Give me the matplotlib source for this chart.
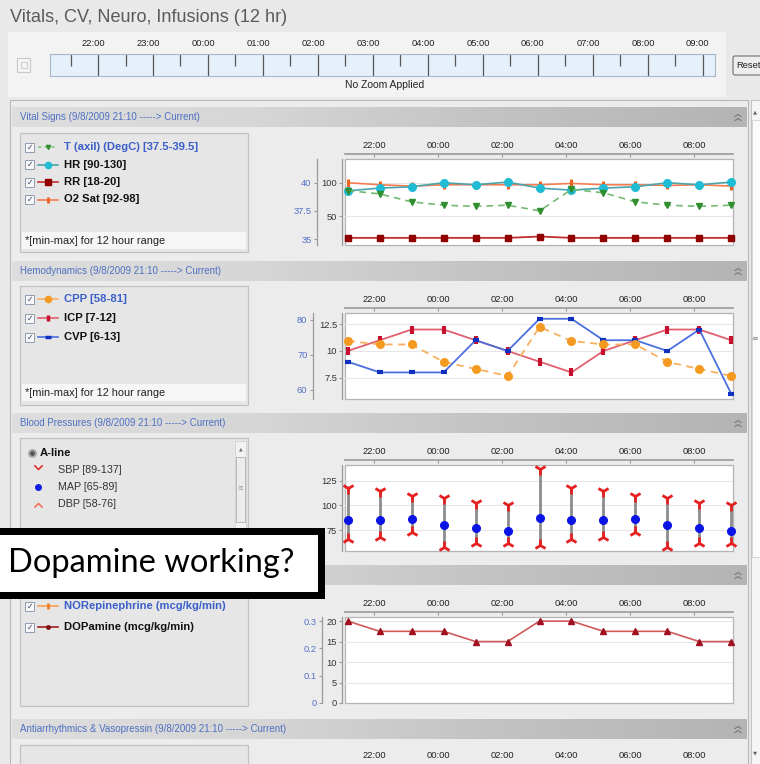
import matplotlib
matplotlib.use('Agg')
import matplotlib.pyplot as plt
import numpy as np
from matplotlib.patches import Rectangle, FancyBboxPatch
from matplotlib.path import Path
from matplotlib.colors import LinearSegmentedColormap
from matplotlib.transforms import ScaledTranslation
from matplotlib import font_manager

# ---------------- data ----------------
sample_times = ['21:10', '22:10', '23:10', '00:10', '01:10', '02:10', '03:10',
                '04:10', '05:10', '06:10', '07:10', '08:10', '09:10']
ruler_labels = ['22:00', '23:00', '00:00', '01:00', '02:00', '03:00',
                '04:00', '05:00', '06:00', '07:00', '08:00', '09:00']
chart_labels = ['22:00', '00:00', '02:00', '04:00', '06:00', '08:00']

temp_c = [39.3, 39.0, 38.3, 38.0, 37.9, 38.0, 37.5, 39.4, 39.1, 38.3, 38.0, 37.9, 38.0]
heart_rate = [88, 92, 94, 100, 97, 101, 92, 89, 92, 94, 100, 97, 101]
resp_rate = [18, 18, 18, 18, 18, 18, 20, 18, 18, 18, 18, 18, 18]
o2_sat = [100, 97, 95, 97, 97, 97, 97, 99, 97, 97, 96, 97, 95]

cpp = [74, 73, 73, 68, 66, 64, 78, 74, 73, 73, 68, 66, 64]
icp = [10, 11, 12, 12, 11, 10, 9, 8, 10, 11, 12, 12, 11]
cvp = [9, 8, 8, 8, 11, 10, 13, 13, 11, 11, 10, 12, 6]

sbp = [118, 115, 110, 108, 103, 100, 137, 118, 115, 110, 108, 103, 100]
mapp = [85, 85, 86, 80, 77, 74, 87, 85, 85, 86, 80, 77, 74]
dbp = [66, 68, 73, 58, 62, 62, 60, 66, 68, 73, 58, 62, 62]

dopamine = [20, 17.5, 17.5, 17.5, 15, 15, 20, 20, 17.5, 17.5, 17.5, 15, 15]

title = 'Vitals, CV, Neuro, Infusions (12 hr)'
section_titles = ['Vital Signs (9/8/2009 21:10 -----> Current)',
                  'Hemodynamics (9/8/2009 21:10 -----> Current)',
                  'Blood Pressures (9/8/2009 21:10 -----> Current)',
                  '',  # Infusions header text is hidden behind the annotation
                  'Antiarrhythmics & Vasopressin (9/8/2009 21:10 -----> Current)']
vital_legend = ['T (axil) (DegC) [37.5-39.5]', 'HR [90-130]', 'RR [18-20]', 'O2 Sat [92-98]']
hemo_legend = ['CPP [58-81]', 'ICP [7-12]', 'CVP [6-13]']
bp_legend = ['SBP [89-137]', 'MAP [65-89]', 'DBP [58-76]']
inf_legend = ['NORepinephrine (mcg/kg/min)', 'DOPamine (mcg/kg/min)']
minmax_note = '*[min-max] for 12 hour range'
annotation = 'Dopamine working?'


def hours(t):
    h, m = map(int, t.split(':'))
    return (h - 21) % 24 + m / 60.0


xs = [hours(t) for t in sample_times]
ruler_x = [hours(t) for t in ruler_labels]
chart_x = [hours(t) for t in chart_labels]

# ---------------- fonts ----------------
avail = {f.name for f in font_manager.fontManager.ttflist}
NARROW = 'Liberation Sans Narrow' in avail
UI = ['Liberation Sans Narrow', 'Liberation Sans'] if NARROW else ['Liberation Sans']
K = (1.0 if NARROW else 0.82) * 1.18
ANNOT_FONT = ['Lato', 'DejaVu Sans']

W, H = 760, 764
fig = plt.figure(figsize=(7.6, 7.64), dpi=100)
fig.patch.set_facecolor('#e9e9e9')
PT = 0.72

bg = fig.add_axes([0, 0, 1, 1])
bg.set_xlim(0, W)
bg.set_ylim(H, 0)
bg.axis('off')


def px_axes(x0, y0, x1, y1):
    return fig.add_axes([x0 / W, 1 - y1 / H, (x1 - x0) / W, (y1 - y0) / H])


def T(x, y, s, size, **kw):
    kw.setdefault('family', UI)
    kw.setdefault('va', 'center')
    return bg.text(x, y, s, fontsize=size * K, **kw)


# ---------------- top area ----------------
T(10, 18, title, 13.5, color='#5a5a5a')
bg.add_patch(Rectangle((8, 32), 718, 65, fc='#f3f3f3', ec='none'))
bg.add_patch(Rectangle((17, 58), 13, 14, fc='#f5f5f5', ec='#c8c8c8', lw=0.8))
bg.add_patch(Rectangle((20.5, 62), 6, 6, fc='none', ec='#d0d0d0', lw=0.8))
T(385, 85, 'No Zoom Applied', 7.7, color='#222222', ha='center')
bg.add_patch(FancyBboxPatch((733, 56), 40, 19, boxstyle='round,pad=0,rounding_size=2',
                            fc='#eeeeee', ec='#707070', lw=0.8))
T(736, 66, 'Reset', 7, color='#222222')

ax_r = px_axes(50, 54, 715, 76)
ax_r.set_facecolor('#e6f0fb')
ax_r.set_xlim(0.127, 12.22)
ax_r.set_ylim(0, 1)
for s in ax_r.spines.values():
    s.set_color('#a8b8cc')
    s.set_linewidth(0.8)
ax_r.set_yticks([])
ax_r.vlines(ruler_x, 0, 1, color='#555555', lw=0.9)
half = [h - 0.5 for h in ruler_x] + [ruler_x[-1] + 0.5]
ax_r.vlines(half, 0.45, 1, color='#555555', lw=0.9)
ax_r.xaxis.tick_top()
ax_r.set_xticks(ruler_x)
ax_r.set_xticklabels(ruler_labels)
ax_r.tick_params(axis='x', length=0, pad=4, labelsize=7 * K, labelcolor='#222222')
for lab in ax_r.get_xticklabels():
    lab.set_family(UI)
    lab.set_transform(lab.get_transform() + ScaledTranslation(-0.05, 0, fig.dpi_scale_trans))

# ---------------- panels ----------------
bg.add_patch(Rectangle((10, 100), 738, 670, fc='#ececec', ec='#b8b8b8', lw=0.8))
# scrollbar
bg.add_patch(Rectangle((751, 100), 10, 670, fc='#f6f6f6', ec='#c4c4c4', lw=0.8))
bg.add_patch(Rectangle((752, 120), 8, 437, fc='#fbfbfb', ec='#d0d0d0', lw=0.6))
T(755, 112, '▲', 4, family=['DejaVu Sans'], color='#666666', ha='center')
T(755, 338, '≡', 6, family=['DejaVu Sans'], color='#888888', ha='center')
T(755, 753, '▼', 4, family=['DejaVu Sans'], color='#666666', ha='center')

hdr_cmap = LinearSegmentedColormap.from_list('hdr', ['#dedede', '#d6d6d6', '#c2c2c2', '#b4b4b4'])
grad = np.linspace(0, 1, 256)[None, :]
section_tops = [107, 261, 413, 565, 719]


def chevrons(x, yc):
    for dy in (-2.5, 1.5):
        bg.plot([x - 3, x, x + 3], [yc + dy + 2, yc + dy, yc + dy + 2], color='#777777', lw=0.8)


for top, name in zip(section_tops, section_titles):
    bg.imshow(grad, cmap=hdr_cmap, extent=(12, 747, top + 20, top), aspect='auto', zorder=1)
    if name:
        T(20, top + 10, name, 7.3, color='#4e70c2', zorder=2)
    chevrons(738, top + 10)
bg.set_xlim(0, W)
bg.set_ylim(H, 0)


def legend_box(top, height):
    bg.add_patch(Rectangle((20, top), 228, height, fc='#e6e6e6', ec='#c2c2c2', lw=0.9, zorder=2))


def minmax_box(y0):
    bg.add_patch(Rectangle((22, y0), 224, 17, fc='#f6f6f6', ec='none', zorder=3))
    T(25, y0 + 8.5, minmax_note, 8.2, color='#222222', zorder=4)


def checkbox(x, y):
    bg.add_patch(Rectangle((x, y - 4.5), 9, 9, fc='#f8f8f8', ec='#8f9db0', lw=0.7, zorder=4))
    bg.text(x + 4.6, y + 0.4, '✓', fontsize=5.5, color='#3c3c6c', ha='center', va='center',
            family=['DejaVu Sans'], zorder=5)


def sample(x, y, lc, mk, mc, ms, ls='-', mew=1.0):
    bg.plot([x, x + 20], [y, y], color=lc, lw=1.2, ls=ls, zorder=4)
    bg.plot([x + 10], [y], marker=mk, color=mc, ms=ms, mew=mew, ls='none', zorder=5)


def legend_rows(y0, dy, labels, styles):
    for i, (lab, st) in enumerate(zip(labels, styles)):
        y = y0 + dy * i
        checkbox(25, y)
        sample(38, y, *st)
        T(64, y, lab, 8.4, fontweight='bold', color='#3b5fc9' if i == 0 else '#111111', zorder=5)


# Vital signs legend
legend_box(133, 119)
legend_rows(147, 17.5, vital_legend,
            [('#80c880', 'v', '#2f8f2f', 3, (0, (2, 2))),
             ('#4aa4aa', 'o', '#20bcd4', 4.5),
             ('#c03030', 's', '#900000', 4.5),
             ('#f47c50', '|', '#f06020', 5, '-', 2)])
minmax_box(232)

# Hemodynamics legend
legend_box(286, 119)
legend_rows(299, 19, hemo_legend,
            [('#f8b060', 'o', '#f59a20', 4.5),
             ('#e06070', '|', '#c8102e', 5, '-', 2.5),
             ('#4a70e0', '_', '#1030c0', 5, '-', 2.5)])
minmax_box(384)

# Blood pressure legend
legend_box(438, 120)
bg.plot([32], [453], marker='o', ms=5, mfc='#555555', mec='#aaaaaa', mew=1.5, zorder=5)
T(40, 453, 'A-line', 8.4, fontweight='bold', color='#111111', zorder=5)
chev_dn = Path([(-1, 1), (0, 0), (1, 1)], [Path.MOVETO, Path.LINETO, Path.LINETO])
chev_up = Path([(-1, -1), (0, 0), (1, -1)], [Path.MOVETO, Path.LINETO, Path.LINETO])
bp_icons = [(chev_dn, '#e53030', 6), ('o', '#1020e0', 4), (chev_up, '#f07060', 6)]
for i, (lab, (mk, c, ms)) in enumerate(zip(bp_legend, bp_icons)):
    y = 470 + 17 * i
    if mk == 'o':
        bg.plot([38], [y], marker='o', ms=ms, color=c, ls='none', zorder=5)
    else:
        bg.plot([38], [y - 1], marker=mk, ms=ms, mfc='none', mec=c, mew=1.2, ls='none', zorder=5)
    T(58, y, lab, 8, color='#333333', zorder=5)
bg.add_patch(Rectangle((235, 441), 11, 114, fc='#f2f2f2', ec='#d0d0d0', lw=0.6, zorder=3))
T(240.5, 449, '▲', 3.5, family=['DejaVu Sans'], color='#777777', ha='center', zorder=5)
bg.add_patch(Rectangle((236, 457), 9, 65, fc='#ececec', ec='#b8b8b8', lw=0.7, zorder=4))
T(240.5, 488, '≡', 5, family=['DejaVu Sans'], color='#999999', ha='center', zorder=5)

# Infusions legend
legend_box(591, 115)
legend_rows(606, 21, inf_legend,
            [('#f8a050', '|', '#f08020', 5, '-', 2),
             ('#a02020', 'o', '#801010', 2.5)])

# Antiarrhythmics legend (cut off)
legend_box(745, 40)


# ---------------- charts ----------------
XLIM = (0.08, 12.22)


def chart(top, ylim, yticks, ylabels, outer_lim=None, outer_ticks=None, outer_labels=None, outer_x=None):
    ax = px_axes(345, top + 52, 733, top + 138)
    ax.set_facecolor('white')
    ax.set_xlim(XLIM)
    ax.set_ylim(ylim)
    ax.spines['bottom'].set_visible(False)
    ax.spines['right'].set_visible(False)
    ax.spines['top'].set_position(('outward', 5 * PT))
    ax.spines['top'].set_color('#9a9a9a')
    ax.spines['top'].set_linewidth(1.2)
    ax.spines['left'].set_position(('outward', 3 * PT))
    ax.spines['left'].set_color('#9a9a9a')
    ax.spines['left'].set_linewidth(0.9)
    ax.add_patch(Rectangle((0, 0), 1, 1, transform=ax.transAxes, fc='none', ec='#b4b4b4',
                           lw=0.9, clip_on=False, zorder=0.5))
    ax.xaxis.tick_top()
    ax.set_xticks(chart_x)
    ax.set_xticklabels(chart_labels)
    ax.tick_params(axis='x', direction='in', length=2, width=0.8, color='#9a9a9a', pad=3,
                   labelsize=7 * K, labelcolor='#222222')
    ax.set_yticks(yticks)
    ax.set_yticklabels(ylabels)
    ax.tick_params(axis='y', direction='out', length=2, width=0.8, color='#9a9a9a', pad=1.5,
                   labelsize=7 * K, labelcolor='#333333')
    for lab in ax.get_xticklabels() + ax.get_yticklabels():
        lab.set_family(UI)
    ax.yaxis.grid(True, color='#e6e6e6', lw=0.8)
    ax.set_axisbelow(True)
    ax2 = None
    if outer_lim is not None:
        ax2 = ax.twinx()
        ax2.set_ylim(outer_lim)
        ax2.yaxis.tick_left()
        ax2.yaxis.set_label_position('left')
        for s in ('top', 'right', 'bottom'):
            ax2.spines[s].set_visible(False)
        ax2.spines['left'].set_visible(True)
        ax2.spines['left'].set_position(('outward', (345 - outer_x) * PT))
        ax2.spines['left'].set_color('#9a9a9a')
        ax2.spines['left'].set_linewidth(0.9)
        ax2.set_yticks(outer_ticks)
        ax2.set_yticklabels(outer_labels)
        ax2.tick_params(axis='y', direction='out', length=2.5, width=0.8, color='#9a9a9a', pad=1.5,
                        labelsize=7 * K, labelcolor='#5470c8')
        for lab in ax2.get_yticklabels():
            lab.set_family(UI)
    return ax, ax2


# Vital signs
ax, ax2 = chart(107, (7.4, 135.3), [50, 100], ['50', '100'],
                (34.47, 42.1), [35, 37.5, 40], ['35', '37.5', '40'], 317)
ax.plot(xs, o2_sat, color='#f47c50', lw=1.2, marker='|', ms=6, mew=2.2, mec='#f06020', clip_on=False)
ax.plot(xs, heart_rate, color='#4aa4aa', lw=1.2, marker='o', ms=5.5, mfc='#20bcd4', mec='#20bcd4', clip_on=False)
ax.plot(xs, resp_rate, color='#c03030', lw=1.3, marker='s', ms=5, mfc='#900000', mec='#900000', clip_on=False)
ax2.plot(xs, temp_c, color='#74bb74', lw=1.2, ls=(0, (4, 3)), marker='v', ms=4, mfc='#2f8f2f',
         mec='#2f8f2f', clip_on=False)

# Hemodynamics
ax, ax2 = chart(261, (5.52, 13.54), [7.5, 10, 12.5], ['7.5', '10', '12.5'],
                (57.4, 82.0), [60, 70, 80], ['60', '70', '80'], 313)
ax.plot(xs, icp, color='#e06070', lw=1.3, marker='|', ms=6, mew=3, mec='#c8102e', clip_on=False)
ax.plot(xs, cvp, color='#4a70e0', lw=1.3, marker='_', ms=5, mew=3, mec='#1030c0', clip_on=False)
ax2.plot(xs, cpp, color='#f8b060', lw=1.3, ls=(0, (4, 3)), marker='o', ms=5.5, mfc='#f59a20',
         mec='#f59a20', clip_on=False)

# Blood pressures
ax, _ = chart(413, (53.6, 141.3), [75, 100, 125], ['75', '100', '125'])
ax.vlines(xs, dbp, sbp, color='#8c8c8c', lw=2)
ax.plot(xs, sbp, ls='none', marker='1', ms=9, mew=2, color='#e52020', clip_on=False)
ax.plot(xs, dbp, ls='none', marker='2', ms=9, mew=2, color='#e52020', clip_on=False)
ax.plot(xs, mapp, ls='none', marker='o', ms=5.5, color='#0a14e6', clip_on=False)

# Infusions
ax, ax2 = chart(565, (0, 21.0), [0, 5, 10, 15, 20], ['0', '5', '10', '15', '20'],
                (0, 0.315), [0, 0.1, 0.2, 0.3], ['0', '0.1', '0.2', '0.3'], 322)
ax.plot(xs, dopamine, color='#d05a5a', lw=1.2, marker='^', ms=4, mfc='#a01020', mec='#a01020', clip_on=False)

# Antiarrhythmics time labels (cut by the bottom edge)
ax5 = px_axes(345, 771, 733, 800)
ax5.set_xlim(XLIM)
ax5.set_facecolor('none')
for s in ax5.spines.values():
    s.set_visible(False)
ax5.set_yticks([])
ax5.xaxis.tick_top()
ax5.set_xticks(chart_x)
ax5.set_xticklabels(chart_labels)
ax5.tick_params(axis='x', length=0, pad=8, labelsize=7 * K, labelcolor='#222222')
for lab in ax5.get_xticklabels():
    lab.set_family(UI)

# ---------------- annotation overlay ----------------
ov = fig.add_axes([0, 0, 1, 1])
ov.set_xlim(0, W)
ov.set_ylim(H, 0)
ov.axis('off')
ov.patch.set_alpha(0)
ov.add_patch(Rectangle((-10, 530.5), 330.5, 64, fc='white', ec='black', lw=7 * PT))
ov.text(8, 563, annotation, fontsize=23.5, family=ANNOT_FONT, color='black', va='center', ha='left')

fig.savefig('out.png', dpi=100, facecolor=fig.get_facecolor())
